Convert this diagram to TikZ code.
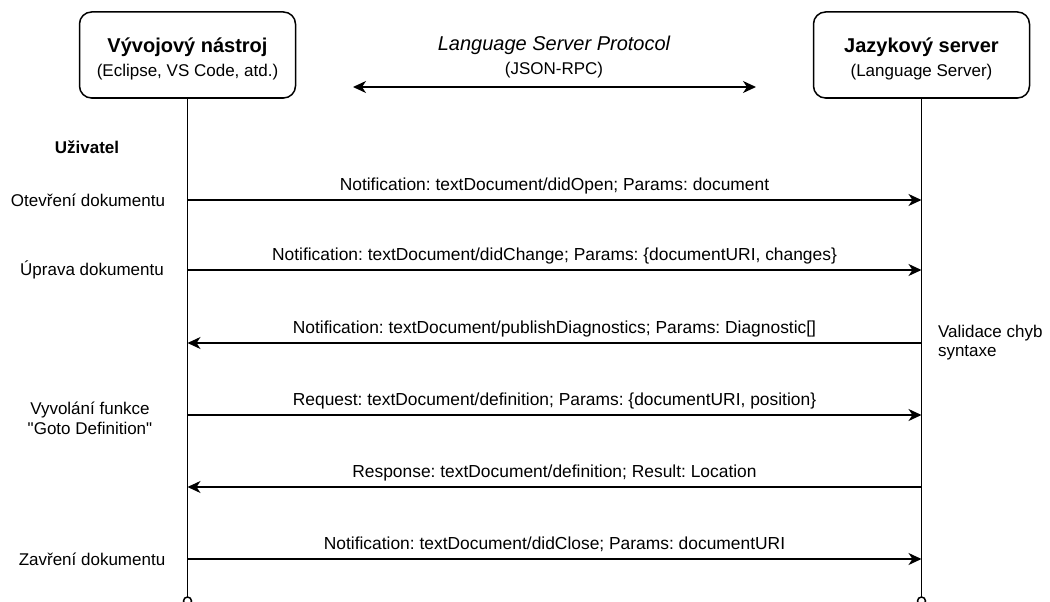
\documentclass[tikz,border=0pt]{standalone}
\usepackage{fontspec}
\setmainfont{Liberation Sans}[Ligatures=TeXOff]
\usetikzlibrary{arrows.meta}
\frenchspacing
\begin{document}
\begin{tikzpicture}[x=1pt,y=-1pt,
  every node/.style={inner sep=0pt, outer sep=0pt},
  actor/.style={draw, line width=1.5pt, rounded corners=12pt, minimum width=216pt, minimum height=86pt},
  title/.style={align=center, font=\fontsize{17}{24}\selectfont\frenchspacing},
  life/.style={line width=1.5pt},
  msg/.style={line width=1.5pt, -{Stealth[length=13pt,width=12pt,inset=4pt]}},
  both/.style={line width=1.5pt, {Stealth[length=13pt,width=12pt,inset=4pt]}-{Stealth[length=13pt,width=12pt,inset=4pt]}},
  lbl/.style={font=\fontsize{17.4}{20}\selectfont\frenchspacing, anchor=base},
  side/.style={font=\fontsize{17}{20}\selectfont, align=center},
  endc/.style={circle, draw, line width=1.5pt, minimum size=8pt, fill=white}]
\useasboundingbox (0,0) rectangle (1050,602);

% actors
\node[actor] (dev) at (187.5,55) {};
\node[title] (devtxt) at (187.5,59) {{\fontsize{20}{24}\selectfont\bfseries Vývojový nástroj}\\(Eclipse, VS Code, atd.)};
\node[actor] (srv) at (921.5,55) {};
\node[title] (srvtxt) at (921.5,59) {{\fontsize{20}{24}\selectfont\bfseries Jazykový server}\\(Language Server)};

% protocol header
\node[title] (proto) at (554,57) {{\fontsize{20}{24}\selectfont\itshape Language Server Protocol}\\(JSON-RPC)};
\coordinate (pl) at (353,87);
\coordinate (pr) at (756,87);
\draw[both] (pl) -- (pr);

% lifelines
\node[endc] (devend) at (187.5,601) {};
\node[endc] (srvend) at (921.5,601) {};
\draw[life] (dev.south) -- (devend.north);
\draw[life] (srv.south) -- (srvend.north);

% lifeline points
\foreach \n/\y in {1/200,2/270,3/343,4/415,5/487,6/559}{
  \coordinate (d\n) at (187.5,\y);
  \coordinate (s\n) at (921.5,\y);
}

% messages
\draw[msg] (d1) -- (s1) node[midway, lbl, yshift=10pt] {Notification: textDocument/didOpen; Params: document};
\draw[msg] (d2) -- (s2) node[midway, lbl, yshift=10pt] {Notification: textDocument/didChange; Params: \{documentURI, changes\}};
\draw[msg] (s3) -- (d3) node[midway, lbl, yshift=10pt] {Notification: textDocument/publishDiagnostics; Params: Diagnostic[]};
\draw[msg] (d4) -- (s4) node[midway, lbl, yshift=10pt] {Request: textDocument/definition; Params: \{documentURI, position\}};
\draw[msg] (s5) -- (d5) node[midway, lbl, yshift=10pt] {Response: textDocument/definition; Result: Location};
\draw[msg] (d6) -- (s6) node[midway, lbl, yshift=10pt] {Notification: textDocument/didClose; Params: documentURI};

% user side labels
\node[side, font=\fontsize{17}{20}\selectfont\bfseries] (user) at (87,147) {Uživatel};
\node[side] (u1) at (88,200) {Otevření dokumentu};
\node[side] (u2) at (92,270) {Úprava dokumentu};
\node[side] (u4) at (90,418) {Vyvolání funkce\\"Goto Definition"};
\node[side] (u6) at (92,559) {Zavření dokumentu};

% server side label
\node[anchor=west, align=left, font=\fontsize{17}{19}\selectfont] (val) at (938,343) {Validace chyb\\syntaxe};
\end{tikzpicture}
\end{document}
